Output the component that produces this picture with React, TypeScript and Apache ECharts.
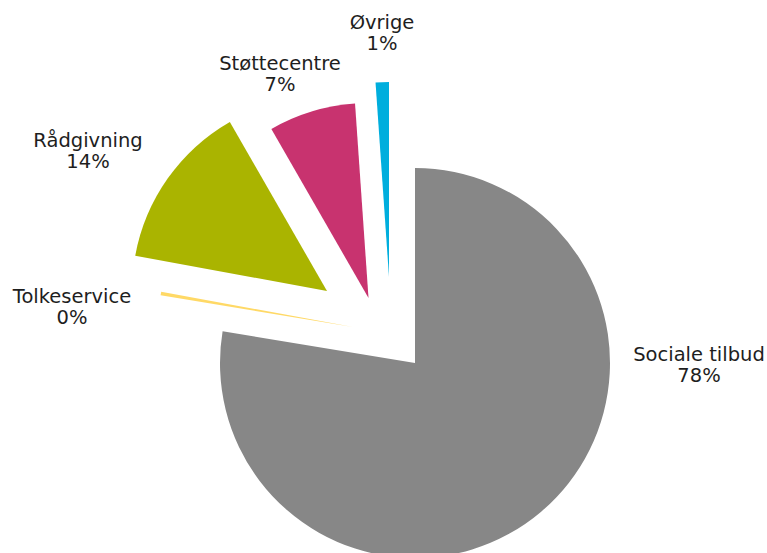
import React, { useEffect, useRef } from "react";
import * as echarts from "echarts";

// ---- data ----
const categories = ["Sociale tilbud", "Tolkeservice", "Rådgivning", "Støttecentre", "Øvrige"];
const values = [77.6, 0.3, 13.8, 7.2, 1.1];

// ---- styling / layout ----
const colors = ["#878787", "#FFD966", "#AAB400", "#C8336F", "#00AEDD"];
// exploded slice centres (px)
const sliceCenters: [number, number][] = [
  [415, 363],
  [353, 327],
  [327, 291],
  [368.5, 298],
  [389, 277],
];
// label anchors (px, centre of text block)
const labelAnchors: [number, number][] = [
  [699, 365],
  [72, 307],
  [88, 151],
  [280, 74],
  [382, 33],
];

export default function App() {
  const ref = useRef<HTMLDivElement>(null);

  useEffect(() => {
    if (!ref.current) return;
    const chart = echarts.init(ref.current, null, { renderer: "svg" });

    const series = categories.map((_, k) => ({
      type: "pie",
      center: sliceCenters[k],
      radius: 195,
      startAngle: 90,
      clockwise: true,
      avoidLabelOverlap: false,
      silent: true,
      minAngle: 0,
      labelLine: { show: false },
      label: {
        show: true,
        position: "outside",
        formatter: (p: any) => `${p.name}\n${Math.round(p.percent)}%`,
        fontFamily: "DejaVu Sans",
        fontSize: 19.5,
        lineHeight: 21,
        color: "#1e1e1e",
        align: "center",
      },
      labelLayout: (p: any) => ({
        x: labelAnchors[p.dataIndex][0],
        y: labelAnchors[p.dataIndex][1],
        align: "center",
        verticalAlign: "middle",
      }),
      emphasis: { disabled: true },
      data: categories.map((name, i) => ({
        name,
        value: values[i],
        itemStyle: {
          color: i === k ? colors[i] : "transparent",
          borderWidth: 0,
        },
        label: { show: i === k },
      })),
    }));

    chart.setOption({
      animation: false,
      backgroundColor: "#ffffff",
      series,
    });

    return () => chart.dispose();
  }, []);

  return (
    <div
      ref={ref}
      style={{ position: "absolute", left: 0, top: 0, width: 767, height: 553 }}
    />
  );
}
